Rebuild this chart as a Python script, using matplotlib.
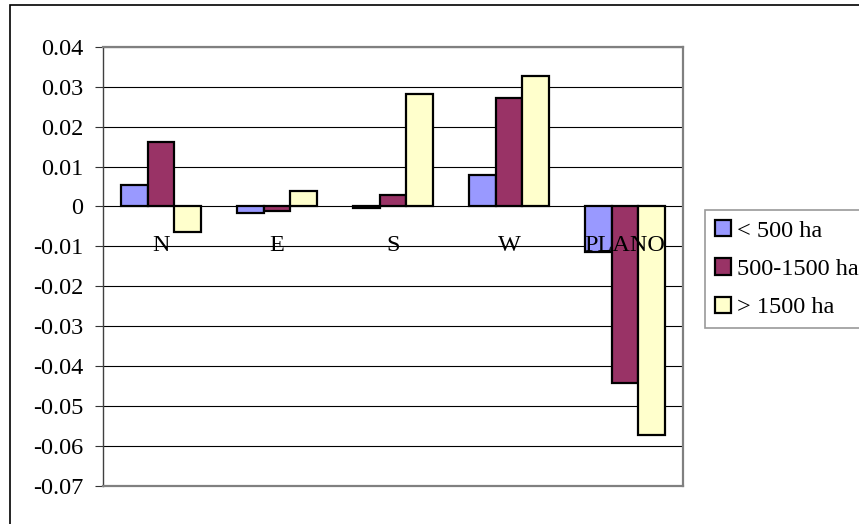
import matplotlib
matplotlib.use("Agg")
import matplotlib.pyplot as plt
import numpy as np
from matplotlib.patches import Rectangle

plt.rcParams['font.family'] = ['Liberation Serif', 'DejaVu Serif']
plt.rcParams['axes.unicode_minus'] = False

categories = ["N", "E", "S", "W", "PLANO"]
series_names = ["< 500 ha", "500-1500 ha", "> 1500 ha"]
small = [0.0054, -0.0017, -0.0004, 0.0080, -0.0113]
medium = [0.0162, -0.0012, 0.0029, 0.0271, -0.0443]
large = [-0.0065, 0.0039, 0.0281, 0.0326, -0.0573]
series_values = [small, medium, large]
colors = ["#9999FF", "#993366", "#FFFFCC"]
y_ticks = [0.04, 0.03, 0.02, 0.01, 0, -0.01, -0.02, -0.03, -0.04, -0.05, -0.06, -0.07]
y_tick_labels = ["0.04", "0.03", "0.02", "0.01", "0", "-0.01", "-0.02", "-0.03",
                 "-0.04", "-0.05", "-0.06", "-0.07"]

W, H = 859, 524
fig = plt.figure(figsize=(W / 100, H / 100), dpi=100)
fig.patch.set_facecolor("white")

left, right, top, bottom = 103, 683, 47, 485.5
ax = fig.add_axes([left / W, 1 - bottom / H, (right - left) / W, (bottom - top) / H])

x = np.arange(len(categories))
width = 0.23
fs = 17.5
for i, (vals, col, name) in enumerate(zip(series_values, colors, series_names)):
    ax.bar(x + (i - 1) * width, vals, width, color=col, edgecolor="black",
           linewidth=1.6, label=name, zorder=3)

ax.set_xlim(-0.5, len(categories) - 0.5)
ax.set_ylim(-0.07, 0.04)
ax.set_yticks(y_ticks)
ax.set_yticklabels(y_tick_labels, fontsize=fs)
ax.set_xticks([])
ax.yaxis.grid(True, color="black", linewidth=0.8)
ax.set_axisbelow(True)
ax.tick_params(axis="y", direction="out", length=5.8, width=0.8, pad=8.5, color="#333333")

for s in ["top", "right", "bottom"]:
    ax.spines[s].set_color("#808080")
    ax.spines[s].set_linewidth(1.6)
ax.spines["left"].set_color("#404040")
ax.spines["left"].set_linewidth(1.0)

# category labels sit just below the zero line
for xi, name in zip(x, categories):
    ax.annotate(name, (xi, 0), xytext=(0, -45), textcoords="offset pixels",
                ha="center", va="baseline", fontsize=fs, zorder=5)

leg = fig.legend(loc="upper left", bbox_to_anchor=(705 / W, 1 - 210 / H),
                 fontsize=fs, frameon=True, fancybox=False, borderaxespad=0,
                 handlelength=0.65, handleheight=0.65, handletextpad=0.25,
                 labelspacing=0.68, borderpad=0.42)
leg.get_frame().set_edgecolor("#808080")
leg.get_frame().set_linewidth(1.2)

# chart border (left and top edges fall inside the canvas)
fig.add_artist(Rectangle((10 / W, -0.5), 2.0, 1.5 - 5 / H, transform=fig.transFigure,
                         fill=False, edgecolor="black", linewidth=1.2, clip_on=False))

fig.savefig("out.png", dpi=100)
